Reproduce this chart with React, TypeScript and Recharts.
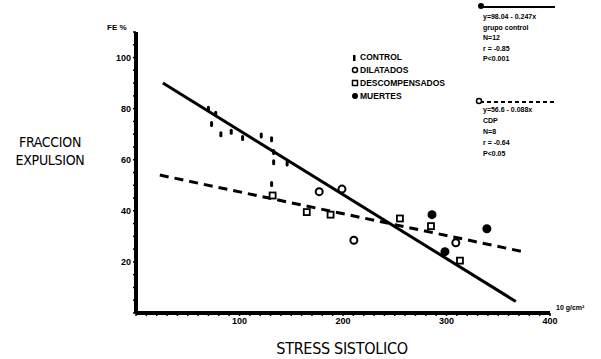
import React from "react";
import { ScatterChart, Scatter, XAxis, YAxis } from "recharts";

// stress sistolico (x) vs fraccion de expulsion % (y)
const controlPts = [
  { x: 70, y: 80 }, { x: 77, y: 78 }, { x: 73, y: 74 }, { x: 82, y: 70 },
  { x: 92, y: 71 }, { x: 103, y: 68.5 }, { x: 121, y: 69.5 }, { x: 131, y: 68 },
  { x: 133, y: 63 }, { x: 133, y: 59 }, { x: 146, y: 58.5 }, { x: 131, y: 50.5 },
];
const dilatadosPts = [{ x: 177, y: 47.5 }, { x: 199, y: 48.5 }, { x: 210.5, y: 28.5 }, { x: 309, y: 27.5 }];
const descompPts = [
  { x: 132, y: 46 }, { x: 165, y: 39.5 }, { x: 188, y: 38.5 },
  { x: 255, y: 37 }, { x: 285, y: 34 }, { x: 313, y: 20.5 },
];
const muertesPts = [{ x: 286, y: 38.5 }, { x: 298.5, y: 24 }, { x: 339, y: 33 }];

// regression lines
const controlFit = [{ x: 26, y: 90 }, { x: 367, y: 4.5 }];
const cdpFit = [{ x: 23, y: 54 }, { x: 374, y: 24 }];

const xTicks = Array.from({ length: 41 }, (_, i) => i * 10);
const yTicks = Array.from({ length: 23 }, (_, i) => i * 5);
const xLabeled = [100, 200, 300, 400];
const yLabeled = [20, 40, 60, 80, 100];

const legendItems = ["CONTROL", "DILATADOS", "DESCOMPENSADOS", "MUERTES"];
const statsControl = ["y=98.04 - 0.247x", "grupo control", "N=12", "r = -0.85", "P<0.001"];
const statsCdp = ["y=56.6 - 0.088x", "CDP", "N=8", "r = -0.64", "P<0.05"];

const INK = "#000";
const font = "'Liberation Sans', Arial, sans-serif";
const cond = "'DejaVu Sans Condensed', sans-serif";

const ControlShape = (p: any) => <rect x={p.cx - 1.5} y={p.cy - 3} width={3} height={6} rx={1.5} fill={INK} />;
const DilShape = (p: any) => <circle cx={p.cx} cy={p.cy} r={3.5} fill="#fff" stroke={INK} strokeWidth={2} />;
const DescShape = (p: any) => <rect x={p.cx - 3} y={p.cy - 3} width={6} height={6} fill="#fff" stroke={INK} strokeWidth={1.8} />;
const MuerteShape = (p: any) => <circle cx={p.cx} cy={p.cy} r={4.5} fill={INK} />;
const NoShape = () => null;

export default function App() {
  return (
    <div style={{ position: "absolute", left: 0, top: 0, width: 601, height: 359, background: "#fff" }}>
      <ScatterChart width={601} height={359} margin={{ top: 32, right: 51, left: 104, bottom: 16 }}>
        <XAxis
          type="number"
          dataKey="x"
          domain={[0, 400]}
          ticks={xTicks}
          interval={0}
          tickFormatter={(v) => (xLabeled.includes(v) ? String(v) : "")}
          tick={{ fontSize: 9, fontWeight: 700, fill: INK, fontFamily: font }}
          tickSize={3}
          tickLine={{ stroke: INK, strokeWidth: 1.5 }}
          axisLine={{ stroke: INK, strokeWidth: 4 }}
          height={30}
        />
        <YAxis
          type="number"
          dataKey="y"
          domain={[0, 110]}
          ticks={yTicks}
          interval={0}
          tickFormatter={(v) => (yLabeled.includes(v) ? String(v) : "")}
          tick={{ fontSize: 9, fontWeight: 700, fill: INK, fontFamily: font }}
          tickSize={3}
          tickLine={{ stroke: INK, strokeWidth: 1.5 }}
          axisLine={{ stroke: INK, strokeWidth: 4 }}
          width={32}
        />
        <Scatter data={controlFit} line={{ stroke: INK, strokeWidth: 3 }} shape={NoShape} isAnimationActive={false} />
        <Scatter data={cdpFit} line={{ stroke: INK, strokeWidth: 3, strokeDasharray: "9 6" }} shape={NoShape} isAnimationActive={false} />
        <Scatter data={controlPts} shape={ControlShape} isAnimationActive={false} />
        <Scatter data={dilatadosPts} shape={DilShape} isAnimationActive={false} />
        <Scatter data={descompPts} shape={DescShape} isAnimationActive={false} />
        <Scatter data={muertesPts} shape={MuerteShape} isAnimationActive={false} />
      </ScatterChart>

      <svg width={601} height={359} style={{ position: "absolute", left: 0, top: 0, pointerEvents: "none" }}>
        <g fontFamily={font} fill={INK}>
          <text x={107} y={30} fontSize={8} fontWeight={700}>FE %</text>
          <text x={50} y={147} fontSize={14} textAnchor="middle" fontFamily={cond} letterSpacing={-0.3}>FRACCION</text>
          <text x={50} y={165} fontSize={14} textAnchor="middle" fontFamily={cond} letterSpacing={-0.3}>EXPULSION</text>
          <text x={342} y={354} fontSize={16} textAnchor="middle" fontFamily={cond} letterSpacing={-0.3}>STRESS  SISTOLICO</text>
          <text x={556} y={310} fontSize={7} fontWeight={700}>10 g/cm²</text>

          {/* legend */}
          {legendItems.map((t, i) => (
            <text key={t} x={360} y={60 + i * 13} fontSize={8.5} fontWeight={700}>{t}</text>
          ))}
          <rect x={353} y={55} width={2.5} height={6} fill={INK} />
          <circle cx={355} cy={70} r={2.5} fill="#fff" stroke={INK} strokeWidth={1.5} />
          <rect x={352.5} y={80.5} width={5} height={5} fill="#fff" stroke={INK} strokeWidth={1.5} />
          <circle cx={355} cy={96} r={3} fill={INK} />

          {/* stats boxes */}
          <line x1={481} y1={7} x2={555} y2={7} stroke={INK} strokeWidth={2} />
          <circle cx={481} cy={6} r={3} fill={INK} />
          {statsControl.map((t, i) => (
            <text key={t} x={483} y={19 + i * 10.5} fontSize={7} fontWeight={700}>{t}</text>
          ))}
          <line x1={480} y1={102} x2={555} y2={102} stroke={INK} strokeWidth={2} strokeDasharray="4 3" />
          <circle cx={479} cy={101} r={2.5} fill="#fff" stroke={INK} strokeWidth={1.5} />
          {statsCdp.map((t, i) => (
            <text key={t} x={483} y={112 + i * 11} fontSize={7} fontWeight={700}>{t}</text>
          ))}
        </g>
      </svg>
    </div>
  );
}
